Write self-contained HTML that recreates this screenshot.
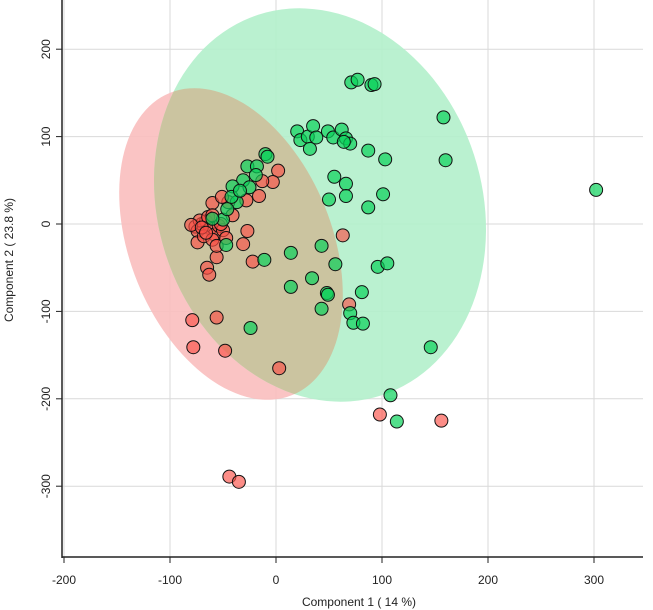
<!DOCTYPE html>
<html><head><meta charset="utf-8"><style>
html,body{margin:0;padding:0;background:#fff;}
svg{display:block;font-family:"Liberation Sans",sans-serif;}
</style></head><body>
<svg id="chart" width="653" height="610">
<defs><clipPath id="gclip"><ellipse cx="320" cy="205" rx="162" ry="200" transform="rotate(-18 320 205)"/></clipPath></defs>
</svg>
<script>
const xTicks=[-200,-100,0,100,200,300];
const yTicks=[200,100,0,-100,-200,-300];
const greenX=[302,158,160,71,77,90,93,20,23,30,32,35,38,49,54,62,66,70,64,87,103,55,66,66,50,101,87,14,43,56,96,105,14,34,48,49,43,81,70,73,82,146,108,114,-11,-24,-47,-10,-8,-27,-18,-19,-31,-25,-41,-37,-42,-50,-60,-34,-46];
const greenY=[39,122,73,162,165,159,160,106,96,100,86,112,99,106,99,108,98,92,94,84,74,54,46,32,28,34,19,-33,-25,-46,-49,-45,-72,-62,-79,-81,-97,-78,-102,-113,-114,-141,-196,-226,-41,-119,-24,80,77,66,66,56,50,42,43,25,31,5,6,38,17];
const redX=[2,-3,-13,-16,-28,-45,-60,-51,-76,-74,-70,-66,-62,-58,-54,-50,-41,-56,-74,-72,-68,-64,-60,-56,-27,-31,-22,-65,-63,-79,-56,-78,-48,3,63,69,98,156,-44,-35,-80,-70,-66,-60,-52,-47];
const redY=[61,48,49,32,27,25,24,31,-3,-8,0,3,-5,-12,-2,-7,10,-38,-21,4,-14,8,-18,-25,-8,-23,-43,-50,-58,-110,-107,-141,-145,-165,-13,-92,-218,-225,-289,-295,-1,-4,-10,10,0,-16];
const sx=v=>276+v*1.06, sy=v=>224-v*0.874;
const svg=document.getElementById('chart');
const NS='http://www.w3.org/2000/svg';
function mk(t,a,p){const e=document.createElementNS(NS,t);for(const k in a)e.setAttribute(k,a[k]);(p||svg).appendChild(e);return e;}
xTicks.forEach(t=>{const l=mk('line',{x1:sx(t),x2:sx(t),y1:0,y2:557,stroke:'#d9d9d9','stroke-width':1});

});
yTicks.forEach(t=>{const l=mk('line',{x1:62,x2:643,y1:sy(t),y2:sy(t),stroke:'#d9d9d9','stroke-width':1});

});
const redE={cx:231,cy:244,rx:101,ry:163,transform:'rotate(-22 231 244)'};
const er=mk('ellipse',Object.assign({fill:'rgb(250,190,190)','fill-opacity':0.9},redE));


const eg=mk('ellipse',{cx:320,cy:205,rx:162,ry:200,transform:'rotate(-18 320 205)',fill:'rgb(178,240,203)','fill-opacity':0.9});


const g=mk('g',{'clip-path':'url(#gclip)'});
const eo=mk('ellipse',Object.assign({fill:'rgb(203,196,160)'},redE),g);


redX.forEach((v,i)=>{const c=mk('circle',{cx:sx(v),cy:sy(redY[i]),r:6.5,fill:'rgb(250,80,70)','fill-opacity':0.65,stroke:'#111','stroke-width':1});

});
greenX.forEach((v,i)=>{const c=mk('circle',{cx:sx(v),cy:sy(greenY[i]),r:6.5,fill:'rgb(10,210,90)','fill-opacity':0.7,stroke:'#111','stroke-width':1});

});
const ya=mk('line',{x1:62,x2:62,y1:0,y2:558,stroke:'#222','stroke-width':1.5});


const xa=mk('line',{x1:62,x2:643,y1:557,y2:557,stroke:'#222','stroke-width':1.5});


xTicks.forEach(t=>{mk('line',{x1:sx(t),x2:sx(t),y1:557,y2:563,stroke:'#222'});
const tx=mk('text',{x:sx(t),y:584,'text-anchor':'middle','font-size':12,fill:'#222'});tx.textContent=t;

});
yTicks.forEach(t=>{mk('line',{x1:56,x2:62,y1:sy(t),y2:sy(t),stroke:'#222'});
const tx=mk('text',{x:0,y:0,transform:`translate(50 ${sy(t)}) rotate(-90)`,'text-anchor':'middle','font-size':12,fill:'#222'});tx.textContent=t;

});
const xt=mk('text',{x:359,y:606,'text-anchor':'middle','font-size':12,fill:'#222'});xt.textContent='Component 1 ( 14 %)';


const yt=mk('text',{x:0,y:0,transform:'translate(13 260) rotate(-90)','text-anchor':'middle','font-size':12,fill:'#222'});yt.textContent='Component 2 ( 23.8 %)';


</script>
</body></html>
